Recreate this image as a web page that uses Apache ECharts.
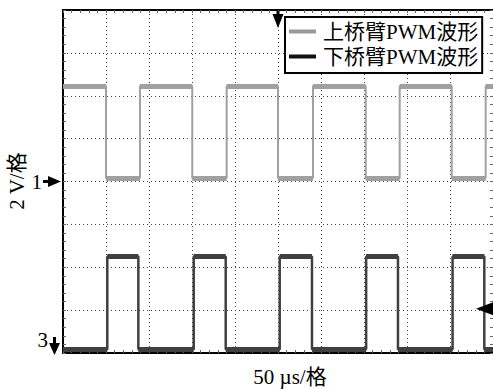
<!DOCTYPE html>
<html><head><meta charset="utf-8">
<script src="https://cdn.jsdelivr.net/npm/echarts@6/dist/echarts.min.js"></script>
<style>html,body{margin:0;padding:0;background:#fff}#c{width:493px;height:389px}</style>
</head><body><div id="c"></div>
<script>
// ---- data (time in µs, 50 µs/div; level in screen divisions, 2 V/div) ----
const seriesNames = ['上桥臂PWM波形', '下桥臂PWM波形'];
const upperEdges = [50, 89.5, 150.3, 190.3, 250, 290.7, 352, 391.5, 452, 491.5];
const upperLevels = [6.23, 4.08];   // [starting level, alternate level]
const lowerEdges = [51.5, 87.6, 152, 189.2, 252, 289.5, 352.5, 389.5, 453, 489.9];
const lowerLevels = [0.09, 2.25];   // [starting level, alternate level]
const xRange = [0, 500];
const yRange = [0, 8];
const xTitle = '50 µs/格';
const yTitle = '2 V/格';
const channelLabels = ['1', '3'];
const channelGrounds = [4, 0];
const triggerTime = 250;
const triggerLevel = 1.03;

const FONT = "'Liberation Serif','Noto Sans CJK SC',serif";
const upperColor = '#a0a0a0';
const lowerColor = '#404040';

function buildWave(edges, levels) {
  const pts = [[xRange[0], levels[0]]];
  let cur = 0;
  edges.forEach(t => { pts.push([t, levels[cur]]); cur = 1 - cur; pts.push([t, levels[cur]]); });
  pts.push([xRange[1], levels[cur]]);
  return pts;
}
function buildBands(edges, levels) {
  const segs = [];
  let cur = 0, prev = xRange[0];
  edges.forEach(t => { segs.push({coords: [[prev, levels[cur]], [t, levels[cur]]]}); prev = t; cur = 1 - cur; });
  segs.push({coords: [[prev, levels[cur]], [xRange[1], levels[cur]]]});
  return segs;
}

const chart = echarts.init(document.getElementById('c'), null, {renderer: 'svg'});
const dotted = {show: true, lineStyle: {color: '#444', width: 1, type: [1, 3]}};
const tickAxisX = (pos, showLine) => ({
  type: 'value', position: pos, min: xRange[0], max: xRange[1], interval: 10,
  axisLine: {show: showLine, onZero: false, lineStyle: {color: '#000', width: 2}},
  axisTick: {show: true, inside: true, length: 3, lineStyle: {color: '#666'}},
  axisLabel: {show: false}, splitLine: {show: false}
});
const tickAxisY = (pos, showLine) => ({
  type: 'value', position: pos, min: yRange[0], max: yRange[1], interval: 0.2,
  axisLine: {show: showLine, onZero: false, lineStyle: {color: '#000', width: 2}},
  axisTick: {show: true, inside: true, length: 3, lineStyle: {color: '#666'}},
  axisLabel: {show: false}, splitLine: {show: false}
});

chart.setOption({
  animation: false,
  backgroundColor: '#fff',
  grid: {left: 63, top: 10, right: -1, bottom: 36, containLabel: false},
  xAxis: [
    {type: 'value', position: 'bottom', min: xRange[0], max: xRange[1], interval: 50,
     axisLine: {show: true, onZero: false, lineStyle: {color: '#000', width: 2}},
     axisTick: {show: false}, axisLabel: {show: false}, splitLine: dotted},
    tickAxisX('bottom', false),
    tickAxisX('top', true)
  ],
  yAxis: [
    {type: 'value', position: 'left', min: yRange[0], max: yRange[1], interval: 1,
     axisLine: {show: true, onZero: false, lineStyle: {color: '#000', width: 2}},
     axisTick: {show: false}, axisLabel: {show: false}, splitLine: dotted},
    tickAxisY('left', false),
    tickAxisY('right', false)
  ],
  legend: {
    orient: 'vertical', left: 285, top: 17, padding: [4, 4, 6, 4], itemGap: 4,
    itemWidth: 27, itemHeight: 4, borderColor: '#000', borderWidth: 2, backgroundColor: '#fff',
    textStyle: {fontFamily: FONT, fontSize: 21, color: '#000', lineHeight: 21, padding: [0, 0, 0, 2]},
    data: [
      {name: seriesNames[0], icon: 'rect', itemStyle: {color: '#999'}},
      {name: seriesNames[1], icon: 'rect', itemStyle: {color: '#111'}}
    ]
  },
  series: [
    {name: seriesNames[0], type: 'line', data: buildWave(upperEdges, upperLevels), symbol: 'none',
     lineStyle: {color: upperColor, width: 2}, itemStyle: {color: upperColor}, z: 3},
    {name: 'band-upper', type: 'lines', coordinateSystem: 'cartesian2d', data: buildBands(upperEdges, upperLevels),
     lineStyle: {color: upperColor, width: 5, opacity: 1}, z: 3, silent: true},
    {name: seriesNames[1], type: 'line', data: buildWave(lowerEdges, lowerLevels), symbol: 'none',
     lineStyle: {color: lowerColor, width: 2.5}, itemStyle: {color: lowerColor}, z: 3},
    {name: 'band-lower', type: 'lines', coordinateSystem: 'cartesian2d', data: buildBands(lowerEdges, lowerLevels),
     lineStyle: {color: lowerColor, width: 5, opacity: 1}, z: 3, silent: true}
  ]
});

// ---- annotations positioned from the axes ----
const px = (x, y) => chart.convertToPixel({xAxisIndex: 0, yAxisIndex: 0}, [x, y]);
const origin = px(xRange[0], yRange[0]);
const topRight = px(xRange[1], yRange[1]);
const gL = origin[0], gB = origin[1], gT = topRight[1], gR = topRight[0];
const graphics = [];
// channel 1 marker (arrow pointing right)
{
  const y = px(0, channelGrounds[0])[1];
  graphics.push({type: 'text', x: gL - 21, y: y, z: 10,
    style: {text: channelLabels[0], font: '21px ' + FONT, fill: '#000', align: 'right', verticalAlign: 'middle'}});
  graphics.push({type: 'polygon', z: 10, shape: {points: [[gL - 20, y - 1.5], [gL - 15, y - 1.5], [gL - 15, y - 5.5], [gL - 2, y], [gL - 15, y + 5.5], [gL - 15, y + 1.5], [gL - 20, y + 1.5]]},
    style: {fill: '#000'}});
}
// channel 3 marker (arrow pointing down)
{
  const y = px(0, channelGrounds[1])[1];
  const cx = gL - 8.5;
  graphics.push({type: 'text', x: gL - 15, y: y - 13, z: 10,
    style: {text: channelLabels[1], font: '21px ' + FONT, fill: '#000', align: 'right', verticalAlign: 'middle'}});
  graphics.push({type: 'polygon', z: 10, shape: {points: [[cx - 1.5, y - 16], [cx + 1.5, y - 16], [cx + 1.5, y - 10], [cx + 5.5, y - 10], [cx, y + 2], [cx - 5.5, y - 10], [cx - 1.5, y - 10]]},
    style: {fill: '#000'}});
}
// trigger time marker at top
{
  const x = px(triggerTime, 0)[0];
  graphics.push({type: 'polygon', z: 10, shape: {points: [[x - 1.5, gT + 1], [x + 1.5, gT + 1], [x + 1.5, gT + 4], [x + 5.5, gT + 4], [x, gT + 18], [x - 5.5, gT + 4], [x - 1.5, gT + 4]]},
    style: {fill: '#000'}});
}
// trigger level marker at right
{
  const y = px(0, triggerLevel)[1];
  graphics.push({type: 'polygon', z: 10, shape: {points: [[gR - 17, y], [gR, y - 6.5], [gR, y + 6.5]]}, style: {fill: '#000'}});
}
// axis titles
graphics.push({type: 'text', x: 17, y: 181, rotation: Math.PI / 2, z: 10,
  style: {text: yTitle, font: '21px ' + FONT, fill: '#000', align: 'center', verticalAlign: 'middle'}});
graphics.push({type: 'text', x: 290, y: 377, z: 10,
  style: {text: xTitle, font: '21px ' + FONT, fill: '#000', align: 'center', verticalAlign: 'middle'}});
chart.setOption({graphic: graphics});
</script>
</body></html>
